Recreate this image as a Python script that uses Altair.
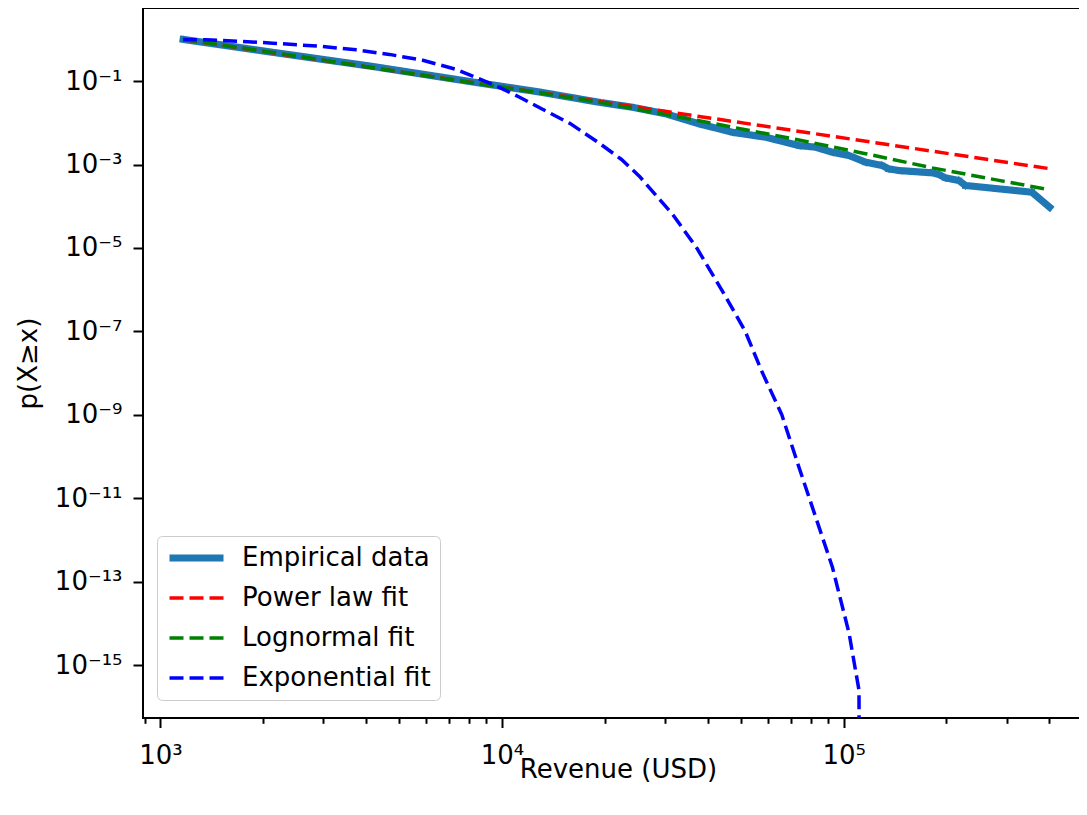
import json
import altair as alt
import pandas as pd

# ---- data ----
series_names = ["Empirical data", "Power law fit", "Lognormal fit", "Exponential fit"]
series_colors = ["#1f77b4", "#ff0000", "#008000", "#0000ff"]

emp_x = [1165, 2133, 4188, 8204, 12850, 19280, 24100, 30200, 37760, 47210, 59160,
         73960, 82800, 92680, 103750, 115900, 129700, 135500, 145200, 181600,
         190100, 198600, 217300, 227500, 355600, 400900]
emp_p = [1.0, 0.49, 0.224, 0.0955, 0.055, 0.031, 0.0236, 0.0164, 0.00944, 0.00594,
         0.00451, 0.00285, 0.0026, 0.00197, 0.00164, 0.00114, 0.000946, 0.000789,
         0.000718, 0.000632, 0.000575, 0.00048, 0.000414, 0.000314, 0.000217, 0.0000948]

pl_x = [1165, 19280, 400900]
pl_p = [1.0, 0.0324, 0.000794]

ln_x = [1165, 2512, 4188, 8204, 12850, 19280, 37760, 73960, 115900, 181600, 285100, 400900]
ln_p = [1.0, 0.398, 0.209, 0.0912, 0.0525, 0.0309, 0.0112, 0.00389, 0.00182,
        0.000832, 0.000417, 0.000248]

ex_x = [1165, 1361, 1706, 2133, 2985, 3741, 4677, 5861, 7345, 8204, 9817, 11220,
        12560, 15850, 19280, 22390, 25230, 31620, 37150, 44670, 51520, 57540,
        65920, 73960, 82800, 92680, 103750, 110900, 111150]
ex_p = [1.0, 0.977, 0.902, 0.813, 0.676, 0.562, 0.437, 0.316, 0.191, 0.132, 0.0708,
        0.0417, 0.0257, 0.00955, 0.00324, 0.00132, 0.000525, 6.31e-5, 1e-5, 7.94e-7,
        1e-7, 1.12e-8, 1e-9, 5.62e-11, 3.55e-12, 2.24e-13, 5.75e-15, 2.5e-16, 1e-18]

x_major_values = [1000, 10000, 100000]
x_major_labels = ["10³", "10⁴", "10⁵"]
x_minor_values = [900, 2000, 3000, 4000, 5000, 6000, 7000, 8000, 9000,
                  20000, 30000, 40000, 50000, 60000, 70000, 80000, 90000,
                  200000, 300000, 400000, 500000]
y_tick_values = [1e-1, 1e-3, 1e-5, 1e-7, 1e-9, 1e-11, 1e-13, 1e-15]
y_tick_labels = ["10⁻¹", "10⁻³", "10⁻⁵", "10⁻⁷", "10⁻⁹", "10⁻¹¹", "10⁻¹³", "10⁻¹⁵"]

x_domain = [10 ** 2.949, 10 ** 5.73]
y_domain = [10 ** -16.27, 10 ** 0.753]

# ---- build table ----
rows = []
for name, xs, ps in zip(series_names, [emp_x, pl_x, ln_x, ex_x], [emp_p, pl_p, ln_p, ex_p]):
    for i, (xv, pv) in enumerate(zip(xs, ps)):
        rows.append({"series": name, "x": xv, "p": pv, "i": i})
df = pd.DataFrame(rows)


def label_expr(vals, labels):
    return "indexof(%s, datum.value) >= 0 ? %s[indexof(%s, datum.value)] : ''" % (
        json.dumps(vals), json.dumps(labels, ensure_ascii=False), json.dumps(vals))


FONT = "DejaVu Sans"
xscale = alt.Scale(type="log", domain=x_domain, nice=False)
yscale = alt.Scale(type="log", domain=y_domain, nice=False)

y_axis = alt.Axis(values=y_tick_values, labelExpr=label_expr(y_tick_values, y_tick_labels),
                  tickSize=10, labelPadding=11, title="p(X≥x)", titleAngle=270,
                  titleX=-115, titleY=355, titleBaseline="middle", titleAlign="center",
                  orient="left")
x_axis_major = alt.Axis(values=x_major_values,
                        labelExpr=label_expr(x_major_values, x_major_labels),
                        tickSize=9.5, labelPadding=15, title="Revenue (USD)",
                        titleY=38, titleBaseline="top", orient="bottom")
x_axis_minor = alt.Axis(values=x_minor_values, labels=False, tickSize=5.3,
                        title=None, orient="bottom")

legend = alt.Legend(title=None, orient="none", legendX=14, legendY=528,
                    symbolType="stroke", symbolSize=2916, labelFontSize=26,
                    labelFont=FONT, labelColor="black", labelLimit=400,
                    labelOffset=15, padding=9, rowPadding=14, clipHeight=26,
                    fillColor="rgba(255,255,255,0.8)", strokeColor="#cccccc",
                    cornerRadius=5)

color = alt.Color("series:N", scale=alt.Scale(domain=series_names, range=series_colors),
                  legend=legend)
dash = alt.StrokeDash("series:N", scale=alt.Scale(domain=series_names,
                      range=[[1, 0], [14, 6], [14, 6], [14, 6]]), legend=legend)
width_enc = alt.StrokeWidth("series:N", scale=alt.Scale(type="ordinal", domain=series_names,
                            range=[7, 3.5, 3.5, 3.5]), legend=legend)

minor_layer = alt.Chart(df).mark_line(opacity=0).encode(
    x=alt.X("x:Q", scale=xscale, axis=x_axis_minor),
    y=alt.Y("p:Q", scale=yscale, axis=y_axis),
    order="i:Q",
)

series_layers = []
for name in series_names:
    cap = "square" if name == "Empirical data" else "butt"
    layer = alt.Chart(df).transform_filter(
        alt.FieldEqualPredicate(field="series", equal=name)
    ).mark_line(clip=True, strokeCap=cap, strokeJoin="round").encode(
        x=alt.X("x:Q", scale=xscale, axis=x_axis_major),
        y=alt.Y("p:Q", scale=yscale, axis=y_axis),
        color=color,
        strokeDash=dash,
        strokeWidth=width_enc,
        order="i:Q",
    )
    series_layers.append(layer)

chart = alt.layer(minor_layer, alt.layer(*series_layers)).resolve_axis(
    x="independent"
).properties(
    width=950, height=710,
    autosize=alt.AutoSizeParams(type="none"),
    padding={"left": 135, "top": 0, "right": -14, "bottom": 85},
).configure_axis(
    labelFont=FONT, labelFontSize=26, labelColor="black",
    titleFont=FONT, titleFontSize=26, titleColor="black", titleFontWeight="normal",
    tickColor="black", tickWidth=2, domain=False, grid=False,
).configure_view(stroke="black", strokeWidth=2)

chart.save("out.html", embed_options={"renderer": "svg", "actions": False})
